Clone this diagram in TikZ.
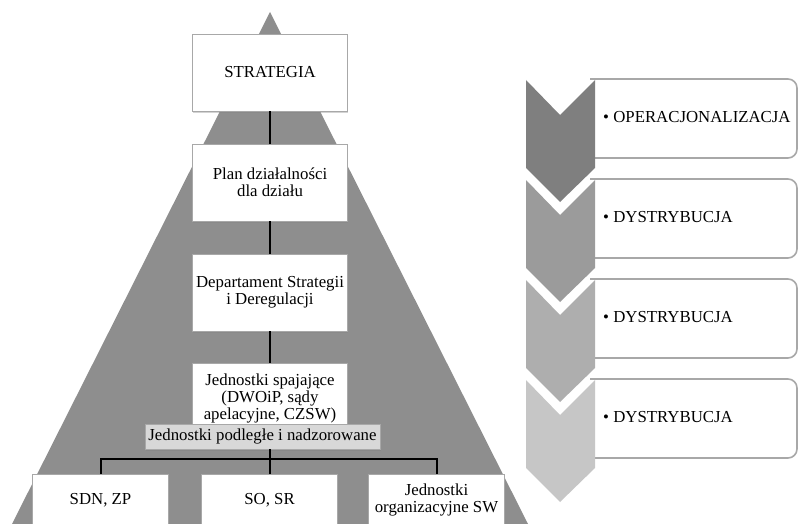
\documentclass[tikz,border=0pt]{standalone}
\usepackage{fontspec}
\setmainfont{Liberation Serif}
\usetikzlibrary{shadows}

\definecolor{pyrgray}{HTML}{8E8E8E}
\definecolor{chevA}{HTML}{7F7F7F}
\definecolor{chevB}{HTML}{9B9B9B}
\definecolor{chevC}{HTML}{AEAEAE}
\definecolor{chevD}{HTML}{C6C6C6}
\definecolor{tagfill}{HTML}{D8D8D8}
\definecolor{rimgray}{HTML}{A8A8A8}

\tikzset{
  tile/.style={draw=rimgray, fill=white, line width=0.8pt, align=center,
    minimum width=155pt, minimum height=77pt, inner sep=1pt,
    font=\fontsize{16.8}{17}\selectfont,
    drop shadow={shadow xshift=0.8pt, shadow yshift=-1.6pt, opacity=0.35}},
  basetile/.style={tile, minimum width=136pt, minimum height=52pt},
  tagbox/.style={draw=rimgray, fill=tagfill, line width=0.8pt,
    minimum width=235pt, minimum height=25pt, inner sep=1pt,
    font=\fontsize{16.8}{17}\selectfont,
    drop shadow={shadow xshift=0.8pt, shadow yshift=-1.6pt, opacity=0.4}},
  link/.style={line width=2pt, black},
  stagerim/.style={draw=rimgray, fill=white, line width=1.6pt},
}

\begin{document}
\begin{tikzpicture}[x=1pt,y=-1pt]
\useasboundingbox (0,0) rectangle (798,524);
\clip (0,0) rectangle (798,524);

% pyramid
\fill[pyrgray] (270,12) -- (528,524) -- (12,524) -- cycle;

% boxes
\node[tile] (strat) at (270,72.5) {STRATEGIA};
\node[tile] (plan) at (270,182.5) {Plan działalności\\dla działu};
\node[tile] (dep) at (270,292.5) {Departament Strategii\\i Deregulacji};
\node[tile, minimum height=70pt] (spaj) at (270,398) {Jednostki spajające\\(DWOiP, sądy\\apelacyjne, CZSW)};

\draw[link] (strat.south) -- (plan.north);
\draw[link] (plan.south) -- (dep.north);
\draw[link] (dep.south) -- (spaj.north);

\node[basetile] (sdn) at (100.5,500) {SDN, ZP};
\node[basetile] (so) at (269.5,500) {SO, SR};
\node[basetile] (sw) at (436.5,500) {Jednostki\\organizacyjne SW};

\node[tagbox] (podl) at (262.5,436.5) {Jednostki podległe i nadzorowane};

\coordinate (bar) at (270,459);
\draw[link] (bar |- podl.south) -- (bar);
\draw[link] (sdn.north) |- (bar) -| (sw.north);
\draw[link] (bar) -- (bar |- so.north);

% stages on the right
\foreach \shade/\word [count=\i from 0] in {chevA/OPERACJONALIZACJA,chevB/DYSTRYBUCJA,chevC/DYSTRYBUCJA,chevD/DYSTRYBUCJA}
{
  \begin{scope}[shift={(0,{100*\i})}]
  \draw[stagerim] (590,79) [rounded corners=9pt] -- (797,79) -- (797,158) [sharp corners] -- (590,158);
  \fill[\shade] (526,80) -- (560,115) -- (595,80) -- (595,168) -- (560,202) -- (526,168) -- cycle;
  \node[anchor=west, inner sep=0pt, font=\fontsize{16.8}{17}\selectfont] (stage\i) at (603,117) {• \word};
  \end{scope}
}

\end{tikzpicture}
\end{document}
